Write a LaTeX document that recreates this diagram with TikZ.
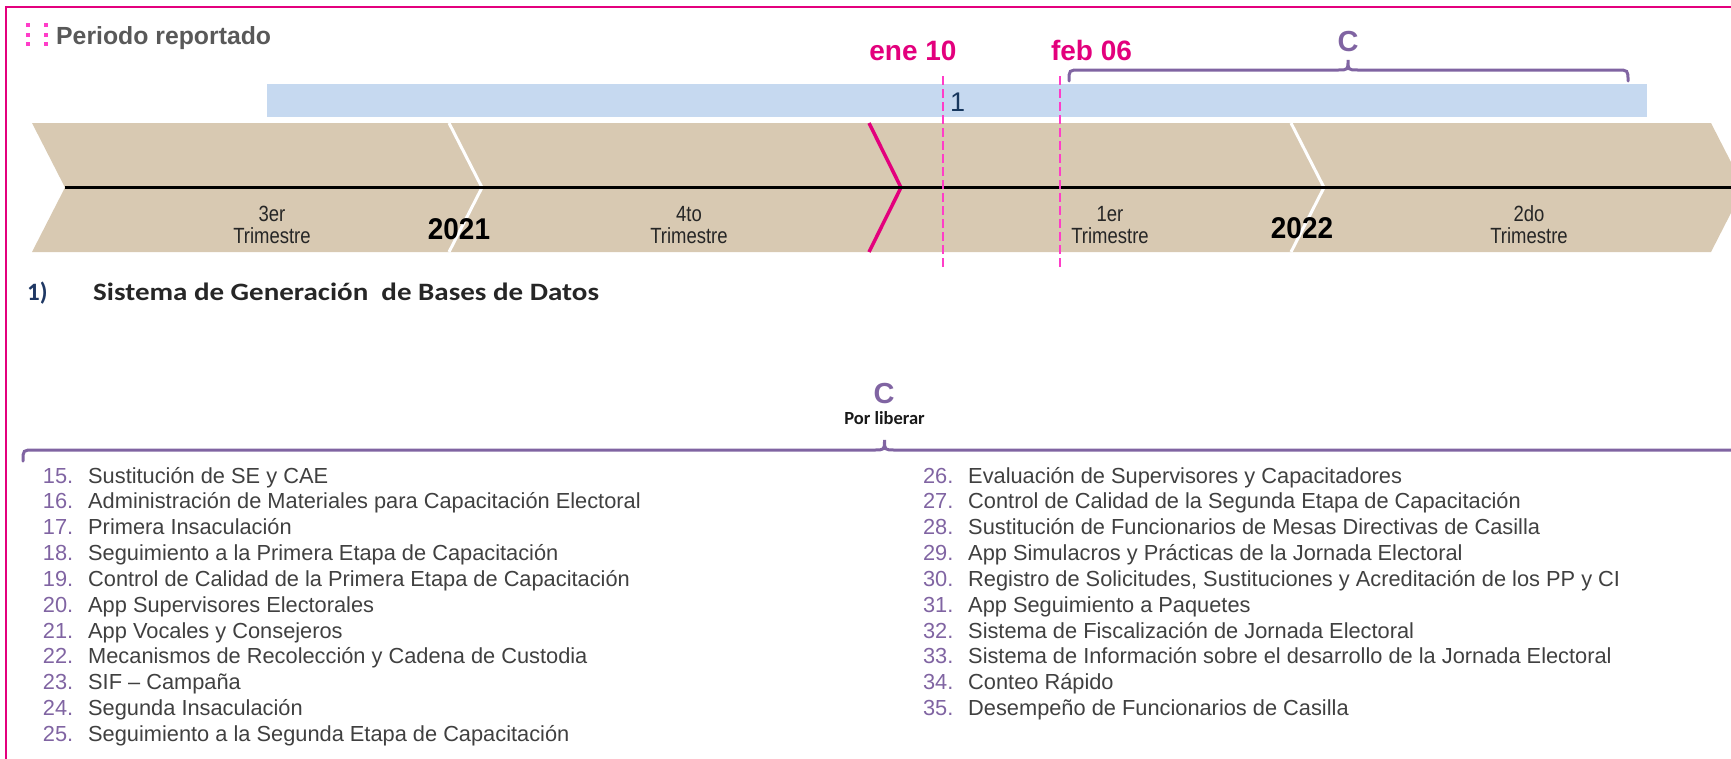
\documentclass[tikz,border=0pt]{standalone}
\usepackage{fontspec}
\setmainfont{Liberation Sans}
\newfontfamily\narrowf[FakeStretch=0.84]{Liberation Sans}
\newfontfamily\yrfont[FakeStretch=0.93]{Liberation Sans}
\newfontfamily\carl{Carlito}
\newfontfamily\carlwide[FakeStretch=1.16]{Carlito}
\definecolor{mag}{HTML}{E3007D}
\definecolor{hotpink}{HTML}{FF3DC8}
\definecolor{tanband}{HTML}{D8C9B2}
\definecolor{barblue}{HTML}{C6D9F0}
\definecolor{purp}{HTML}{8064A2}
\definecolor{navy}{HTML}{1F3864}
\definecolor{txtgray}{HTML}{404040}
\definecolor{headgray}{HTML}{595959}
\definecolor{onecol}{HTML}{17375E}
\tikzset{
  lbl/.style={inner sep=0pt, text=black!85, font=\narrowf\fontsize{22}{22}\selectfont},
  yrlbl/.style={inner sep=0pt, text=black, font=\yrfont\bfseries\fontsize{30}{30}\selectfont},
  datelbl/.style={inner sep=0pt, text=mag, font=\bfseries\fontsize{28}{28}\selectfont},
  bigc/.style={inner sep=0pt, text=purp, font=\bfseries\fontsize{29}{29}\selectfont},
  numst/.style={inner sep=0pt, text=purp, font=\fontsize{21.8}{21.8}\selectfont, anchor=base east},
  itemst/.style={inner sep=0pt, text=txtgray, font=\fontsize{21.8}{21.8}\selectfont, anchor=base west},
  bracest/.style={purp, line width=3pt, line cap=round},
  dashln/.style={hotpink, line width=2.6pt, dash pattern=on 9pt off 4pt},
}
\newcommand\lrow[4]{%
  \node[numst] (n#3) at (#1, 483+25.85*#2) {#3.};
  \node[itemst] (t#3) at (#1+14.5, 483+25.85*#2) {#4};
}
\begin{document}
\begin{tikzpicture}[x=1pt,y=-1pt]
\useasboundingbox (0,0) rectangle (1731,758);
\begin{scope}
\clip (0,0) rectangle (1731,758);
% frame
\draw[mag, line width=2.2pt] (6,7) rectangle (1770,800);
% header dots
\foreach \dx in {28,46} \foreach \dy in {25,34.5,44}
  \fill[hotpink] (\dx-2,\dy-2) rectangle (\dx+2,\dy+2);
\node[inner sep=0pt, anchor=base west, text=headgray, font=\bfseries\fontsize{24.8}{24.8}\selectfont] (title) at (56,44) {Periodo reportado};
% blue bar
\node[fill=barblue, inner sep=0pt, minimum width=1380pt, minimum height=33pt, anchor=north west] (bar) at (267,84) {};
\node[inner sep=0pt, anchor=base west, text=onecol, font=\fontsize{27}{27}\selectfont] (one) at (950,111) {1};
% chevron band
\fill[tanband] (32,123) -- (1711,123) -- (1744,187.5) -- (1711,252) -- (32,252) -- (65,187.5) -- cycle;
\draw[white, line width=3pt] (449,123) -- (482,187.5) -- (449,252);
\draw[white, line width=3pt] (1291,123) -- (1324,187.5) -- (1291,252);
\draw[mag, line width=3.5pt] (869,123) -- (901,187.5) -- (869,252);
\draw[black, line width=3pt] (65,187.5) -- (1745,187.5);
% labels in band
\node[lbl, anchor=base] (q3a) at (272,221) {3er};
\node[lbl, anchor=base] (q3b) at (272,243) {Trimestre};
\node[lbl, anchor=base] (q4a) at (689,221) {4to};
\node[lbl, anchor=base] (q4b) at (689,243) {Trimestre};
\node[lbl, anchor=base] (q1a) at (1110,221) {1er};
\node[lbl, anchor=base] (q1b) at (1110,243) {Trimestre};
\node[lbl, anchor=base] (q2a) at (1529,221) {2do};
\node[lbl, anchor=base] (q2b) at (1529,243) {Trimestre};
\node[yrlbl, anchor=base] (y21) at (459,239) {2021};
\node[yrlbl, anchor=base] (y22) at (1302,238) {2022};
% date markers
\node[datelbl, anchor=base] (ene) at (913,60) {ene 10};
\node[datelbl, anchor=base] (feb) at (1091.5,60) {feb 06};
\coordinate (eneT) at (943,76);
\coordinate (eneB) at (943,270);
\coordinate (febT) at (1060,76);
\coordinate (febB) at (1060,270);
\draw[dashln] (eneT) -- (eneB);
\draw[dashln] (febT) -- (febB);
% top brace
\node[bigc, anchor=base] (ctop) at (1348,51) {C};
\draw[bracest] (1069,81) .. controls (1069,70) .. (1080,70) -- (1338,70)
   .. controls (1348,70) .. (1348,60) .. controls (1348,70) .. (1358,70)
   -- (1617,70) .. controls (1628,70) .. (1628,81);
% heading
\node[inner sep=0pt, anchor=base west, text=navy, font=\carl\bfseries\fontsize{25}{25}\selectfont] (hnum) at (27,300) {1)};
\node[inner sep=0pt, anchor=base west, text=black!85, font=\carlwide\bfseries\fontsize{25}{25}\selectfont] (htxt) at (93,300) {Sistema de Generación\ \ de Bases de Datos};
% lower brace
\node[bigc, anchor=base] (clow) at (884,403) {C};
\node[inner sep=0pt, anchor=base, text=black!90, font=\carl\bfseries\fontsize{18.5}{18.5}\selectfont] (porlib) at (884.5,424.5) {Por liberar};
\draw[bracest] (23,461) .. controls (23,450) .. (34,450) -- (874,450)
   .. controls (884.5,450) .. (884.5,440) .. controls (884.5,450) .. (895,450)
   -- (1735,450) .. controls (1746,450) .. (1746,461);
% list left
\lrow{73.5}{0}{15}{Sustitución de SE y CAE}
\lrow{73.5}{1}{16}{Administración de Materiales para Capacitación Electoral}
\lrow{73.5}{2}{17}{Primera Insaculación}
\lrow{73.5}{3}{18}{Seguimiento a la Primera Etapa de Capacitación}
\lrow{73.5}{4}{19}{Control de Calidad de la Primera Etapa de Capacitación}
\lrow{73.5}{5}{20}{App Supervisores Electorales}
\lrow{73.5}{6}{21}{App Vocales y Consejeros}
\lrow{73.5}{7}{22}{Mecanismos de Recolección y Cadena de Custodia}
\lrow{73.5}{8}{23}{SIF – Campaña}
\lrow{73.5}{9}{24}{Segunda Insaculación}
\lrow{73.5}{10}{25}{Seguimiento a la Segunda Etapa de Capacitación}
% list right
\lrow{953.5}{0}{26}{Evaluación de Supervisores y Capacitadores}
\lrow{953.5}{1}{27}{Control de Calidad de la Segunda Etapa de Capacitación}
\lrow{953.5}{2}{28}{Sustitución de Funcionarios de Mesas Directivas de Casilla}
\lrow{953.5}{3}{29}{App Simulacros y Prácticas de la Jornada Electoral}
\lrow{953.5}{4}{30}{Registro de Solicitudes, Sustituciones y Acreditación de los PP y CI}
\lrow{953.5}{5}{31}{App Seguimiento a Paquetes}
\lrow{953.5}{6}{32}{Sistema de Fiscalización de Jornada Electoral}
\lrow{953.5}{7}{33}{Sistema de Información sobre el desarrollo de la Jornada Electoral}
\lrow{953.5}{8}{34}{Conteo Rápido}
\lrow{953.5}{9}{35}{Desempeño de Funcionarios de Casilla}
\end{scope}
\end{tikzpicture}
\end{document}
